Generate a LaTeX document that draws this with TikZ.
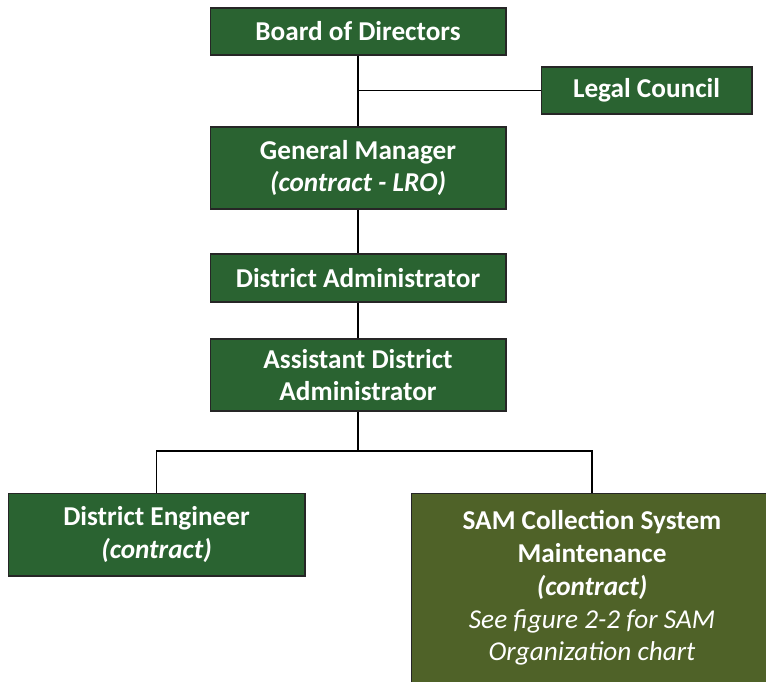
\documentclass[tikz,border=0pt]{standalone}
\usepackage{fontspec}
\setmainfont{Carlito}
\definecolor{postgreen}{HTML}{2A6331}
\definecolor{postolive}{HTML}{4F6228}
\tikzset{post/.style = {draw=black!85, line width=0.6pt, fill=postgreen, text=white, align=center, inner sep=0pt, font=\bfseries\fontsize{15.5}{18.7}\selectfont}}
\tikzset{link/.style = {draw=black, line width=0.8pt}}

\begin{document}
\begin{tikzpicture}[x=0.02cm, y=-0.02cm]
        \useasboundingbox (0,0) rectangle (766,681);
        \clip (0,0) rectangle (766,681);

        \node[post, minimum width=5.92cm, minimum height=0.94cm] (board) at (358, 31.5) {Board of Directors};
        \node[post, minimum width=4.22cm, minimum height=0.94cm] (legal) at (646.5, 90.5) {Legal Council};
        \node[post, minimum width=5.92cm, minimum height=1.64cm] (gm) at (358, 168) {General Manager\\\textit{(contract - LRO)}};
        \node[post, minimum width=5.92cm, minimum height=0.96cm] (da) at (358, 278) {District Administrator};
        \node[post, minimum width=5.92cm, minimum height=1.44cm] (ada) at (358, 375) {Assistant District\\Administrator};
        \node[post, minimum width=5.94cm, minimum height=1.66cm] (de) at (156.5, 534.5) {District Engineer\\\textit{(contract)}};
        \node[post, fill=postolive, minimum width=7.24cm, minimum height=3.8cm] (sam) at (592, 588)
            {SAM Collection System\\Maintenance\\\textit{(contract)}\\\mdseries\itshape See figure 2-2 for SAM\\\mdseries\itshape Organization chart};

        \coordinate (legaljoin) at (358, 90.5);
        \coordinate (fork) at (358, 451);

        \draw[link] (board) -- (gm);
        \draw[link] (legaljoin) -- (legal);
        \draw[link] (gm) -- (da);
        \draw[link] (da) -- (ada);
        \draw[link] (ada) -- (fork) -| (de);
        \draw[link] (fork) -| (sam);
      \end{tikzpicture}
\end{document}
